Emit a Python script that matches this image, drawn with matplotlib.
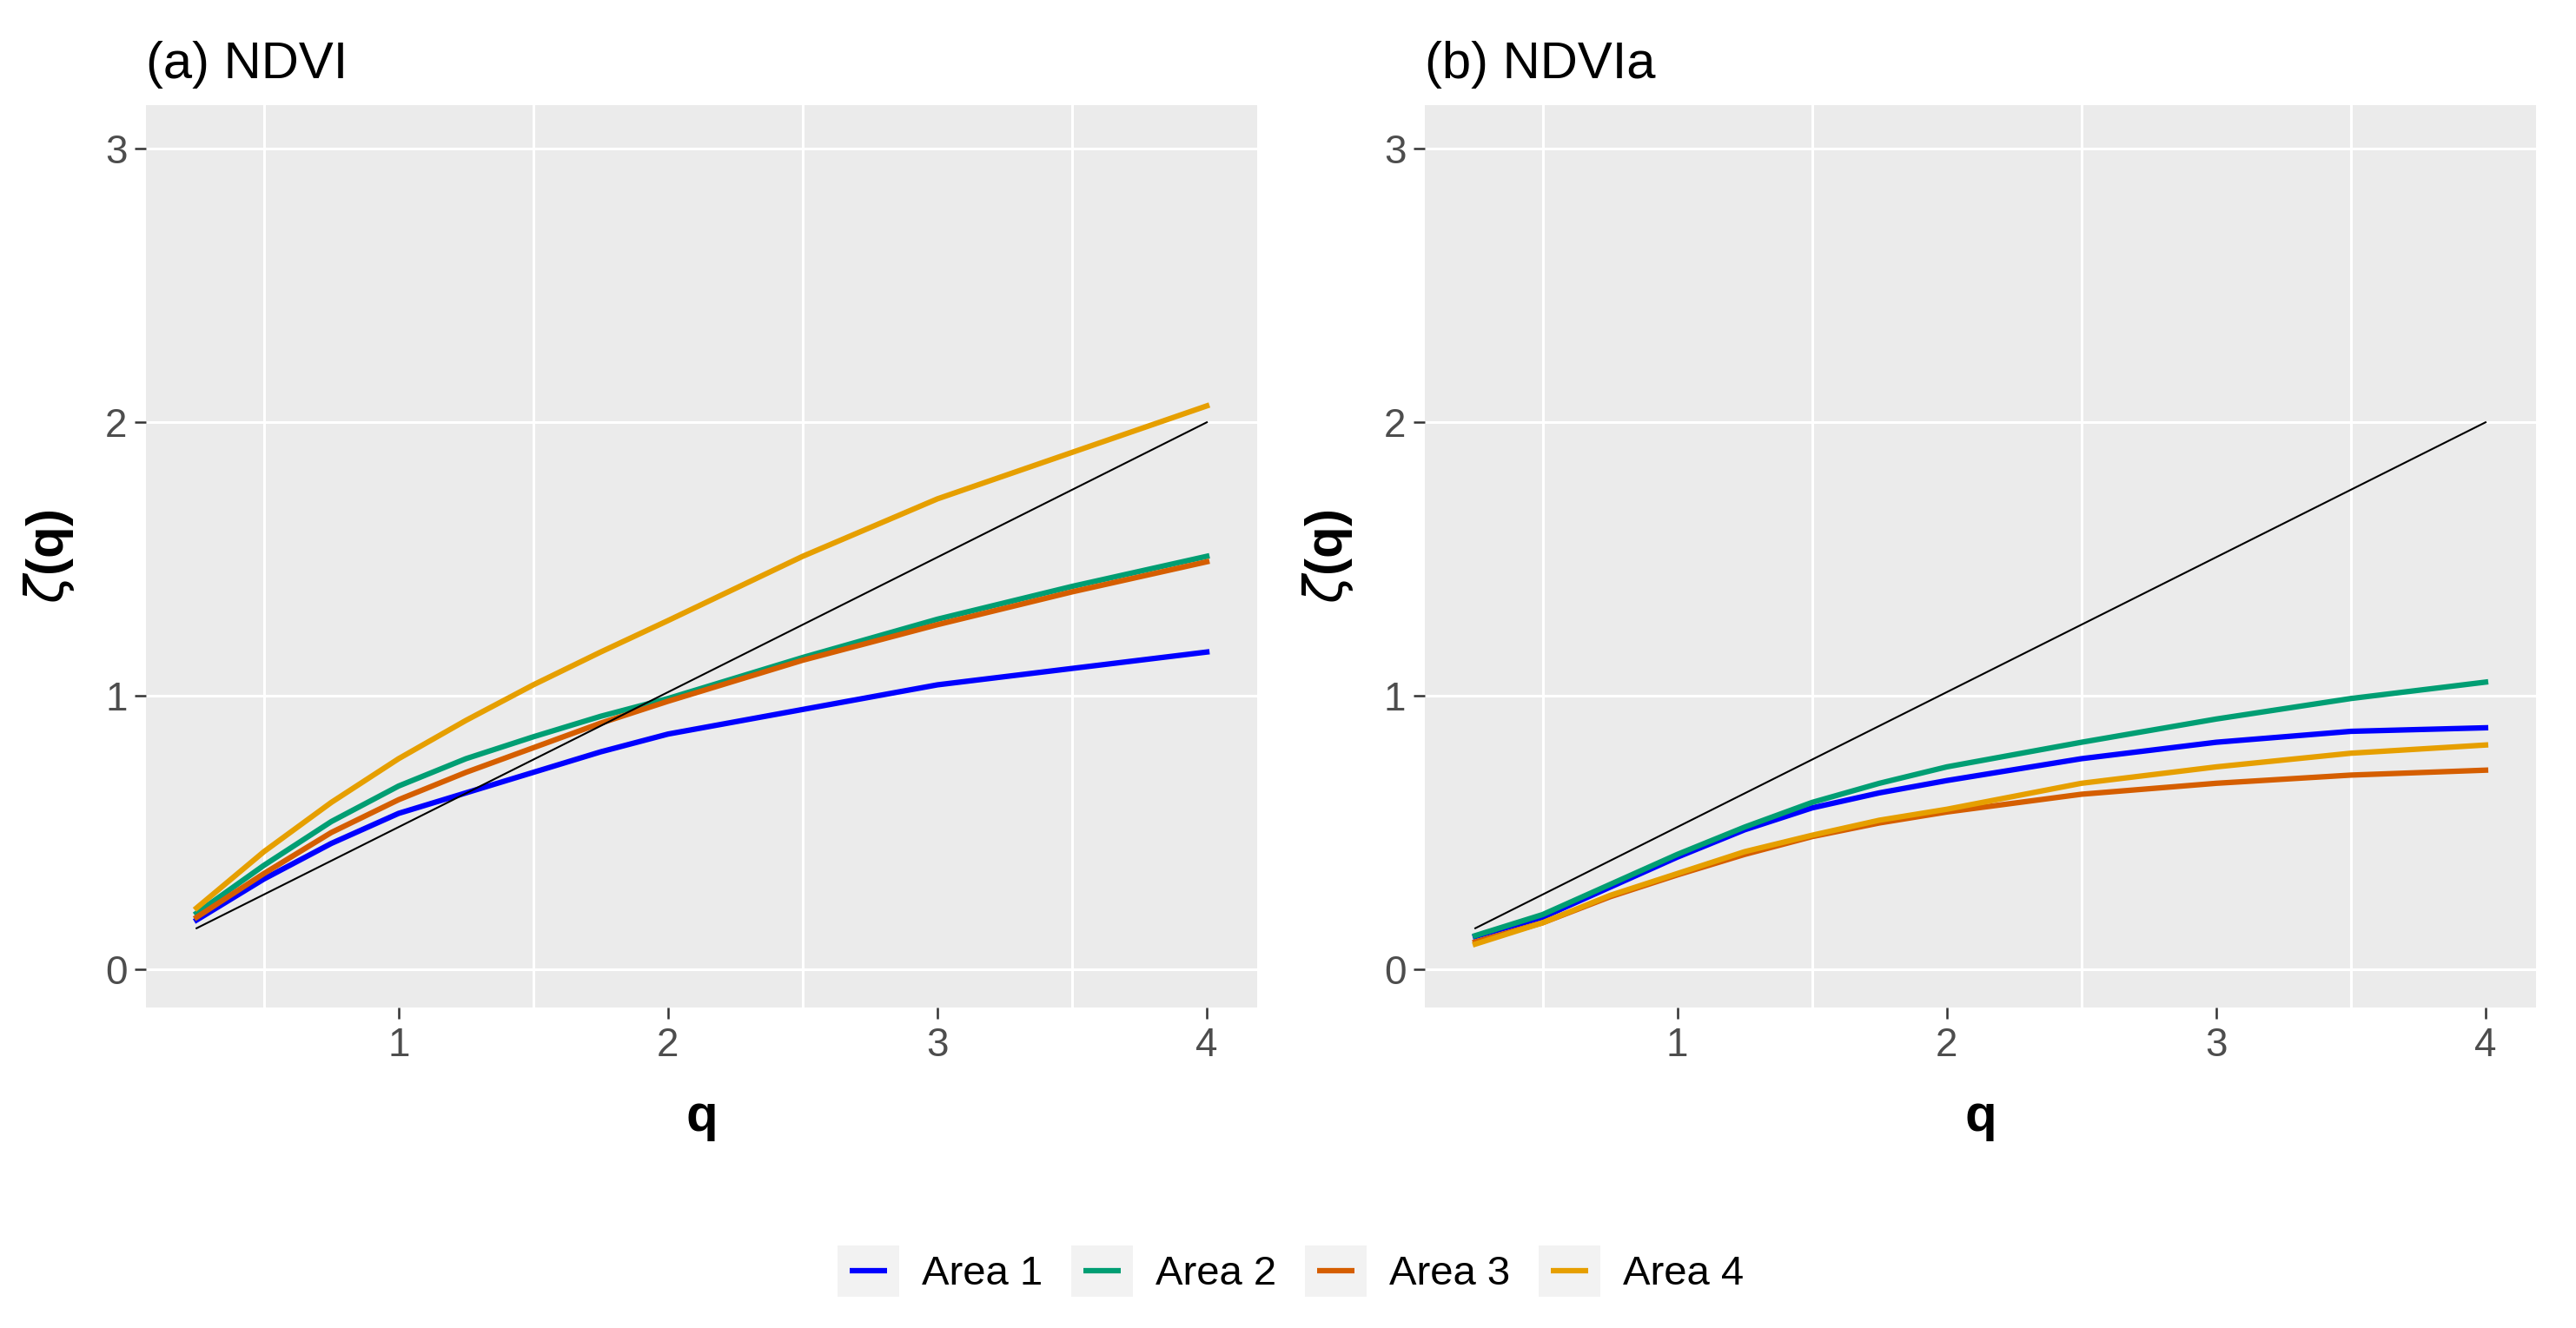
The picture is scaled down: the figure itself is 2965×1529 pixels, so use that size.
import matplotlib
matplotlib.use("Agg")
import matplotlib.pyplot as plt
from matplotlib.legend_handler import HandlerBase
from matplotlib.patches import Rectangle
from matplotlib.lines import Line2D

plt.rcParams['font.family'] = ['Liberation Sans', 'DejaVu Sans']

# q values at which the scaling exponents were read
q = [0.25, 0.5, 0.75, 1.0, 1.25, 1.5, 1.75, 2.0, 2.5, 3.0, 3.5, 4.0]

# reference line
q_ref = [0.25, 4.0]
zeta_ref = [0.15, 2.0]

# (a) NDVI
ndvi_area1 = [0.18, 0.33, 0.46, 0.57, 0.645, 0.72, 0.795, 0.86, 0.95, 1.04, 1.10, 1.16]
ndvi_area2 = [0.205, 0.38, 0.54, 0.67, 0.77, 0.85, 0.925, 0.99, 1.14, 1.28, 1.40, 1.51]
ndvi_area3 = [0.19, 0.35, 0.50, 0.62, 0.72, 0.81, 0.90, 0.98, 1.13, 1.26, 1.38, 1.49]
ndvi_area4 = [0.224, 0.43, 0.61, 0.77, 0.91, 1.04, 1.16, 1.275, 1.51, 1.72, 1.89, 2.06]

# (b) NDVIa
ndvia_area1 = [0.12, 0.19, 0.30, 0.41, 0.51, 0.59, 0.645, 0.69, 0.77, 0.83, 0.87, 0.883]
ndvia_area2 = [0.123, 0.20, 0.31, 0.42, 0.52, 0.61, 0.68, 0.74, 0.83, 0.915, 0.99, 1.05]
ndvia_area3 = [0.10, 0.17, 0.265, 0.345, 0.42, 0.485, 0.535, 0.575, 0.64, 0.68, 0.71, 0.728]
ndvia_area4 = [0.092, 0.17, 0.27, 0.35, 0.43, 0.49, 0.545, 0.585, 0.68, 0.74, 0.79, 0.82]

area_names = ["Area 1", "Area 2", "Area 3", "Area 4"]
area_colors = ["#0000FF", "#009E73", "#D55E00", "#E69F00"]
panel_titles = ["(a) NDVI", "(b) NDVIa"]
panel_data = [
    [ndvi_area1, ndvi_area2, ndvi_area3, ndvi_area4],
    [ndvia_area1, ndvia_area2, ndvia_area3, ndvia_area4],
]


class KeyHandler(HandlerBase):
    """ggplot-like legend key: grey square with a short line."""

    def create_artists(self, legend, orig_handle, xdescent, ydescent,
                       width, height, fontsize, trans):
        bg = Rectangle((-xdescent, -ydescent), width, height,
                       facecolor="#F2F2F2", edgecolor="none", transform=trans)
        y = -ydescent + height / 2
        ln = Line2D([-xdescent + 0.2 * width, -xdescent + 0.8 * width], [y, y],
                    color=orig_handle.get_color(), lw=orig_handle.get_linewidth(),
                    solid_capstyle="butt", transform=trans)
        return [bg, ln]


fig = plt.figure(figsize=(29.65, 15.29), dpi=100)
axes = [fig.add_axes([0.0567, 0.2413, 0.4314, 0.6796]),
        fig.add_axes([0.5531, 0.2413, 0.4314, 0.6796])]

handles = []
for ax, title, series in zip(axes, panel_titles, panel_data):
    ax.set_facecolor("#EBEBEB")
    for s in ax.spines.values():
        s.set_visible(False)

    for vals, name, col in zip(series, area_names, area_colors):
        h, = ax.plot(q, vals, color=col, lw=4.5, label=name, zorder=3)
        if ax is axes[0]:
            handles.append(h)
    ax.plot(q_ref, zeta_ref, color="black", lw=1.5, zorder=4)

    ax.set_xlim(0.0625, 4.1875)
    ax.set_ylim(-0.14, 3.16)
    ax.set_xticks([1, 2, 3, 4])
    ax.set_xticks([0.5, 1.5, 2.5, 3.5], minor=True)
    ax.set_yticks([0, 1, 2, 3])
    ax.grid(False)
    ax.grid(True, which="minor", axis="x", color="white", lw=2.2)
    ax.grid(True, which="major", axis="y", color="white", lw=2.2)
    ax.set_axisbelow(True)
    ax.tick_params(which="major", length=9.5, width=1.8, color="#333333",
                   labelcolor="#4D4D4D", labelsize=33, pad=6)
    ax.tick_params(which="minor", length=0)

    ax.set_title(title, loc="left", fontsize=43, pad=22)
    ax.set_xlabel("q", fontsize=43, fontweight="bold", labelpad=24)
    ax.set_ylabel(r"$\zeta$(q)", fontsize=43, fontweight="bold", labelpad=24)

fig.legend(handles=handles, labels=area_names, loc="center",
           bbox_to_anchor=(0.501, 0.043), ncol=4, frameon=False,
           fontsize=34, handlelength=1.5, handleheight=1.55,
           handletextpad=0.55, columnspacing=0.7,
           handler_map={Line2D: KeyHandler()})

fig.savefig("out.png", dpi=100)
